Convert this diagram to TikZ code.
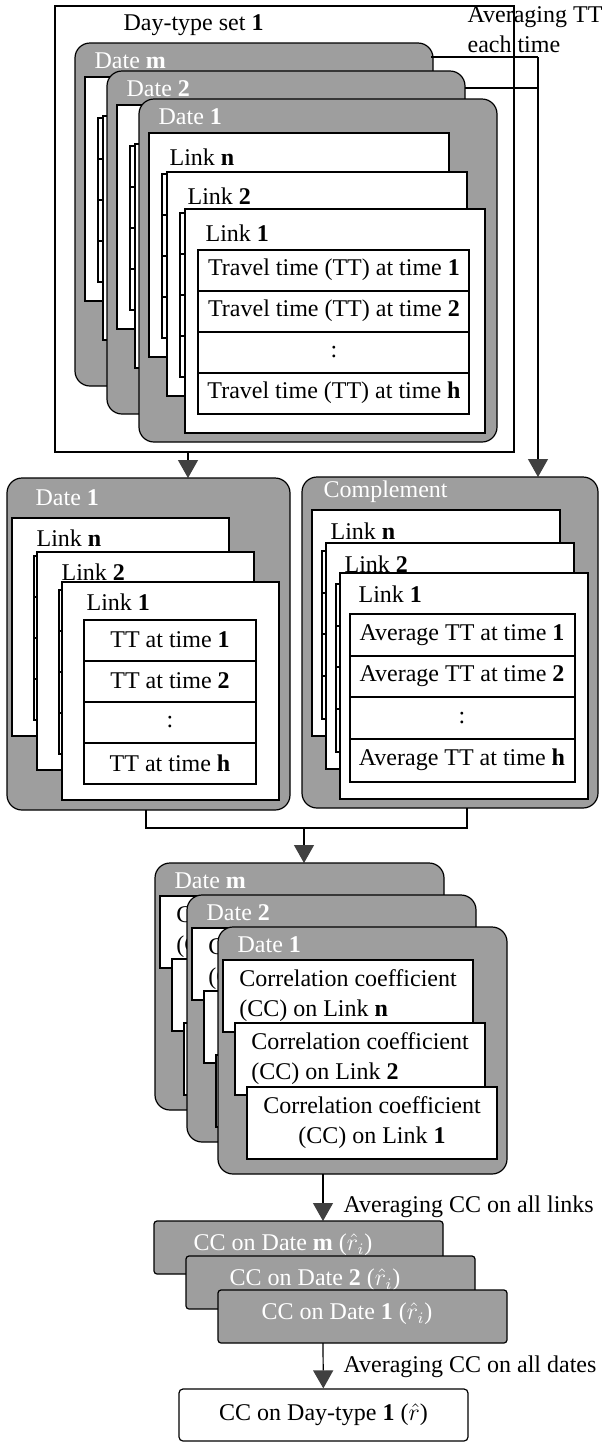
\documentclass[tikz,border=0pt]{standalone}
\usepackage{fontspec}
\setmainfont{Liberation Serif}
\usetikzlibrary{arrows.meta}
\definecolor{panelgray}{gray}{0.62}
\definecolor{tipgray}{gray}{0.25}

\begin{document}
\begin{tikzpicture}[x=0.5pt, y=-0.5pt, line width=0.6pt,
    font=\fontsize{12}{15}\selectfont,
    panel/.style={draw, fill=panelgray, rounded corners=7.5pt},
    linkbox/.style={draw, fill=white},
    result/.style={draw, fill=panelgray, rounded corners=1.5pt},
    title/.style={anchor=west, text=white, inner sep=0pt},
    caption/.style={anchor=west, inner sep=0pt},
    cctext/.style={inner sep=0pt},
    flow/.style={-{Triangle[width=10pt, length=9pt, color=tipgray]}}]
    \useasboundingbox (0,0) rectangle (601,1442);

    % 日型集合
    \draw (55,6) rectangle (514,452);
    \node[caption] (dayset) at (123,25) {Day-type set \textbf{1}};
    \node[caption, align=left] (avgtt) at (467,30) {Averaging TT\\each time};

    % 日期 m, 2, 1（上）
    \foreach \dt/\dx/\dy in {m/75/43, 2/107/71, 1/139/99}{
      \begin{scope}[shift={(\dx,\dy)}]
        \draw[panel] (0,0) rectangle (358,343);
        \node[title] (top-\dt) at (19,18) {Date \textbf{\dt}};
        \foreach \lx/\ly in {10/34, 28/73, 46/110}{
          \draw[linkbox] (\lx,\ly) rectangle ++(300,224);
          \draw (\lx+13,\ly+41) rectangle (\lx+284,\ly+205);
          \foreach \ry in {82,123,164} \draw (\lx+13,\ly+\ry) -- (\lx+284,\ly+\ry);
        }
      \end{scope}
    }
    \foreach \lk/\lx/\ly in {n/169/157, 2/187/196, 1/205/233}
      \node[caption] (top-link-\lk) at (\lx,\ly) {Link \textbf{\lk}};
    \foreach \ry/\txt in {270/{Travel time (TT) at time \textbf{1}},
                          311/{Travel time (TT) at time \textbf{2}},
                          352/{:},
                          393/{Travel time (TT) at time \textbf{h}}}
      \node (tt-\ry) at (334,\ry) {\txt};

    % 平均 TT
    \coordinate (topm-e) at (431,57);
    \coordinate (top2-e) at (465,88);
    \coordinate (avg-a) at (538,57);
    \coordinate (avg-b) at (538,88);
    \coordinate (comp-n) at (538,477);
    \draw (topm-e) -- (avg-a);
    \draw (top2-e) -- (avg-b);
    \draw[flow] (avg-a) -- (comp-n);

    \coordinate (frame-s) at (188,452);
    \coordinate (mid-n) at (188,478);
    \draw[flow] (frame-s) -- (mid-n);

    % 日期 1（中）
    \draw[panel] (7,478) rectangle (290,810);
    \node[title] (mid-date) at (35,498) {Date \textbf{1}};
    \foreach \lk/\lx/\ly in {n/12/518, 2/37/552, 1/62/582}{
      \draw[linkbox] (\lx,\ly) rectangle ++(217,218);
      \node[caption] (mid-\lk) at (\lx+24,\ly+20) {Link \textbf{\lk}};
      \draw (\lx+22,\ly+38) rectangle (\lx+194,\ly+202);
      \foreach \ry in {79,120,161} \draw (\lx+22,\ly+\ry) -- (\lx+194,\ly+\ry);
    }
    \foreach \ry/\txt in {640/{TT at time \textbf{1}}, 681/{TT at time \textbf{2}},
                          722/{:}, 763/{TT at time \textbf{h}}}
      \node (mid-tt-\ry) at (170,\ry) {\txt};

    % 补集
    \draw[panel] (302,477) rectangle (598,808);
    \node[title] (comp-title) at (323,492) {Complement};
    \foreach \lk/\lx/\ly in {n/312/510, 2/326/543, 1/340/573}{
      \draw[linkbox] (\lx,\ly) rectangle ++(248,226);
      \node[caption] (comp-\lk) at (\lx+18,\ly+21) {Link \textbf{\lk}};
      \draw (\lx+10,\ly+41) rectangle (\lx+235,\ly+209);
      \foreach \ry in {83,124,166} \draw (\lx+10,\ly+\ry) -- (\lx+235,\ly+\ry);
    }
    \foreach \ry/\txt in {635/{Average TT at time \textbf{1}}, 676/{Average TT at time \textbf{2}},
                          718/{:}, 760/{Average TT at time \textbf{h}}}
      \node (comp-tt-\ry) at (462,\ry) {\txt};

    % 合并
    \coordinate (mid-s) at (146,810);
    \coordinate (comp-s) at (467,808);
    \coordinate (join-l) at (146,828);
    \coordinate (join-r) at (467,828);
    \coordinate (join) at (304,828);
    \coordinate (ccm-n) at (304,863);
    \draw (mid-s) -- (join-l) -- (join-r) -- (comp-s);
    \draw[flow] (join) -- (ccm-n);

    % 相关系数
    \foreach \dt/\dx/\dy in {m/155/863, 2/187/895, 1/218/927}{
      \begin{scope}[shift={(\dx,\dy)}]
        \draw[panel] (0,0) rectangle (289,247);
        \node[title] (cc-\dt) at (19,18) {Date \textbf{\dt}};
        \foreach \lx/\ly in {5/33, 17/96, 29/160}
          \draw[linkbox] (\lx,\ly) rectangle ++(250,72);
        \node[cctext, align=left] (cc-\dt-n) at (130,69)
          {Correlation coefficient\\(CC) on Link \textbf{n}};
      \end{scope}
    }
    \node[cctext, align=left] (cc-1-2) at (360,1059)
      {Correlation coefficient\\(CC) on Link \textbf{2}};
    \node[cctext, align=center] (cc-1-1) at (372,1123)
      {Correlation coefficient\\(CC) on Link \textbf{1}};

    \coordinate (cc1-s) at (323,1174);
    \coordinate (resm-n) at (323,1221);
    \draw[flow] (cc1-s) -- (resm-n);
    \node[caption] (avg-links) at (343,1207) {Averaging CC on all links};

    % 每日 CC
    \foreach \dt/\dx/\dy in {m/154/1221, 2/186/1256, 1/218/1290}{
      \draw[result] (\dx,\dy) rectangle ++(289,53);
      \node[cctext, text=white] (res-\dt) at (\dx+129,\dy+24) {CC on Date \textbf{\dt} ($\hat{r}_i$)};
    }

    \coordinate (res1-s) at (323,1343);
    \node[draw, rounded corners=2pt, minimum width=144.5pt, minimum height=26pt]
      (final) at (323.5,1415) {CC on Day-type \textbf{1} ($\hat{r}$)};
    \draw[flow] (res1-s) -- (final);
    \node[caption] (avg-dates) at (343,1367) {Averaging CC on all dates};
\end{tikzpicture}
\end{document}
